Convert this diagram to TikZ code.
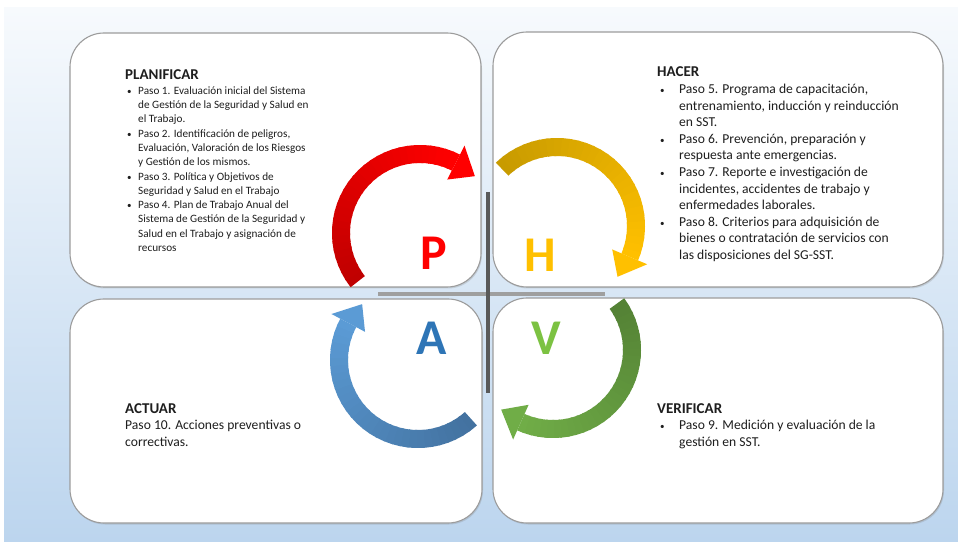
\documentclass[tikz,border=0pt]{standalone}
\usepackage{fontspec}
\setmainfont{Carlito}
\usetikzlibrary{calc,shadows}

\definecolor{bgtop}{HTML}{F7FAFD}
\definecolor{bgbot}{HTML}{BCD5EE}
\definecolor{boxline}{HTML}{9C9C9C}
\definecolor{txtcol}{HTML}{1E1E1E}
\definecolor{pdark}{HTML}{C00000}
\definecolor{plight}{HTML}{FF0000}
\definecolor{hdark}{HTML}{C89B00}
\definecolor{hlight}{HTML}{FFC000}
\definecolor{vdark}{HTML}{548235}
\definecolor{vlight}{HTML}{70AD47}
\definecolor{adark}{HTML}{4372A0}
\definecolor{alight}{HTML}{5B9BD5}
\definecolor{letA}{HTML}{2E75B6}
\definecolor{letV}{HTML}{7CC242}

\tikzset{
  quad/.style={draw=boxline, fill=white, line width=1.1pt, rounded corners=34pt,
    drop shadow={opacity=0.25, shadow xshift=1pt, shadow yshift=-1.5pt}},
  letter/.style={font=\fontsize{50}{50}\selectfont\bfseries, inner sep=0pt},
  crossbar/.style={line width=3.5pt, line cap=butt},
  stepsmall/.style={anchor=base west, inner sep=0pt, text=txtcol,
    font=\fontsize{11.2}{14.3}\selectfont},
  stepbig/.style={anchor=base west, inner sep=0pt, text=txtcol,
    font=\fontsize{13.6}{16.6}\selectfont}
}

\newcommand{\phasetitle}[1]{{\fontsize{15}{14}\selectfont\bfseries #1}}
\newcommand{\bul}{{\small\textbullet}}

% circular arrow: centre, tail angle, head angle, tail colour, head colour
\newcommand{\pdcaarc}[5]{%
  \foreach \k in {0,...,29}{
    \pgfmathsetmacro{\angA}{#2+(#3-#2)*\k/30}
    \pgfmathsetmacro{\angB}{#2+(#3-#2)*min(\k+1.3,30)/30}
    \pgfmathtruncatemacro{\mixp}{100*\k/29}
    \fill[#5!\mixp!#4] ($(#1)+(\angA:70pt)$) arc[start angle=\angA, end angle=\angB, radius=70pt]
      -- ($(#1)+(\angB:88pt)$) arc[start angle=\angB, end angle=\angA, radius=88pt] -- cycle;
  }
  \fill[#5] ($(#1)+(#3:60pt)$) -- ($(#1)+(#3:98pt)$) -- ($(#1)+(#3-17:79pt)$) -- cycle;
}

\begin{document}
\begin{tikzpicture}[x=1pt, y=1pt]
\useasboundingbox (0,0) rectangle (958,541);
\fill[white] (0,0) rectangle (958,541);
\shade[top color=bgtop, bottom color=bgbot] (4,0) rectangle (958,533);

% the four quadrants
\node[quad, minimum width=411pt, minimum height=254pt] (boxP) at (275.5,381) {};
\node[quad, minimum width=450pt, minimum height=255pt] (boxH) at (718,381.5) {};
\node[quad, minimum width=412pt, minimum height=224pt] (boxA) at (276,130) {};
\node[quad, minimum width=450pt, minimum height=225pt] (boxV) at (718,130.5) {};

% cross
\coordinate (hl) at (378,247);
\coordinate (hr) at (605,247);
\coordinate (vt) at (488,349);
\coordinate (vb) at (488,148);
\draw[crossbar, color=gray!75] (hl) -- (hr);
\draw[crossbar, color=black!65] (vt) -- (vb);

% cycle arrows
\coordinate (cP) at (420,308);
\coordinate (cH) at (557,315);
\coordinate (cV) at (553,191);
\coordinate (cA) at (418,181);
\pdcaarc{cP}{218}{63}{pdark}{plight}
\pdcaarc{cH}{134}{-23}{hdark}{hlight}
\pdcaarc{cV}{36}{-114}{vdark}{vlight}
\pdcaarc{cA}{-48}{-208}{adark}{alight}

% letters
\node[letter, text=plight] (letP) at (434,288) {P};
\node[letter, text=hlight] (letH) at (540,286) {H};
\node[letter, text=letA] (letA) at (432,203) {A};
\node[letter, text=letV] (letV) at (546,203) {V};

% texts
\node[stepsmall] (plan) at (125,461) {%
  \begin{tabular}[t]{@{\hspace{2pt}}p{11pt}@{}l@{}}
  \multicolumn{2}{@{}l@{}}{\phasetitle{PLANIFICAR}}\\
  \bul & Paso 1. Evaluación inicial del Sistema\\
       & de Gestión de la Seguridad y Salud en\\
       & el Trabajo.\\
  \bul & Paso 2. Identificación de peligros,\\
       & Evaluación, Valoración de los Riesgos\\
       & y Gestión de los mismos.\\
  \bul & Paso 3. Política y Objetivos de\\
       & Seguridad y Salud en el Trabajo\\
  \bul & Paso 4. Plan de Trabajo Anual del\\
       & Sistema de Gestión de la Seguridad y\\
       & Salud en el Trabajo y asignación de\\
       & recursos
  \end{tabular}};
\node[stepbig] (hacer) at (657,464) {%
  \begin{tabular}[t]{@{\hspace{3pt}}p{19pt}@{}l@{}}
  \multicolumn{2}{@{}l@{}}{\phasetitle{HACER}}\\
  \bul & Paso 5. Programa de capacitación,\\
       & entrenamiento, inducción y reinducción\\
       & en SST.\\
  \bul & Paso 6. Prevención, preparación y\\
       & respuesta ante emergencias.\\
  \bul & Paso 7. Reporte e investigación de\\
       & incidentes, accidentes de trabajo y\\
       & enfermedades laborales.\\
  \bul & Paso 8. Criterios para adquisición de\\
       & bienes o contratación de servicios con\\
       & las disposiciones del SG-SST.
  \end{tabular}};
\node[stepbig] (actuar) at (125,128) {%
  \begin{tabular}[t]{@{}l@{}}
  \phasetitle{ACTUAR}\\
  Paso 10. Acciones preventivas o\\
  correctivas.
  \end{tabular}};
\node[stepbig] (verificar) at (657,128) {%
  \begin{tabular}[t]{@{\hspace{3pt}}p{19pt}@{}l@{}}
  \multicolumn{2}{@{}l@{}}{\phasetitle{VERIFICAR}}\\
  \bul & Paso 9. Medición y evaluación de la\\
       & gestión en SST.
  \end{tabular}};
\end{tikzpicture}
\end{document}
